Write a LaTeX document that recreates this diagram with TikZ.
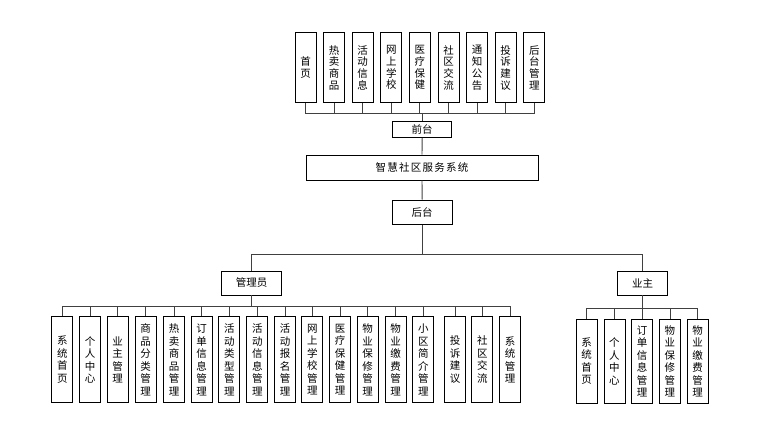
\documentclass[tikz,border=0pt]{standalone}
\usepackage{fontspec}
\newfontfamily\cjk{Noto Sans CJK SC}
\newfontfamily\cjkwide[LetterSpace=12]{Noto Sans CJK SC}
\begin{document}
\begin{tikzpicture}[x=1pt,y=-1pt,
  box/.style={draw=black,line width=0.9pt,fill=white,inner sep=0pt,
    font=\cjk\fontsize{10.5}{12}\selectfont,align=center},
  topbox/.style={box,minimum width=21,minimum height=70,
    font=\cjk\fontsize{10.5}{11.7}\selectfont},
  leafbox/.style={box,minimum width=21,minimum height=86,
    font=\cjk\fontsize{10.5}{12.5}\selectfont},
  ownleaf/.style={box,minimum width=21,minimum height=84,
    font=\cjk\fontsize{10.5}{12.5}\selectfont},
  link/.style={draw=black!75,line width=0.9pt}]
\useasboundingbox (0,0) rectangle (768,443);

% front-end pages
\foreach \t [count=\i] in {首\\页,热\\卖\\商\\品,活\\动\\信\\息,网\\上\\学\\校,医\\疗\\保\\健,社\\区\\交\\流,通\\知\\公\\告,投\\诉\\建\\议,后\\台\\管\\理}
  \node[topbox] (t\i) at ({305.5+28.6*(\i-1)},67.7) {\t};

\node[box,minimum width=59,minimum height=16] (qt) at (422.2,129.5) {前台};
\node[box,minimum width=232,minimum height=25,font=\cjkwide\fontsize{10.5}{12}\selectfont] (sys) at (422,167.5) {智慧社区服务系统};
\node[box,minimum width=60,minimum height=24] (ht) at (422.2,212.2) {后台};
\node[box,minimum width=60,minimum height=24] (adm) at (251.7,283) {管理员};
\node[box,minimum width=50,minimum height=24] (own) at (642.5,283) {业主};

% administrator modules
\foreach \t/\x [count=\i] in {
  系\\统\\首\\页/62.3, 个\\人\\中\\心/90, 业\\主\\管\\理/117.7,
  商\\品\\分\\类\\管\\理/145.7, 热\\卖\\商\\品\\管\\理/174,
  订\\单\\信\\息\\管\\理/201.7, 活\\动\\类\\型\\管\\理/229.3,
  活\\动\\信\\息\\管\\理/257.3, 活\\动\\报\\名\\管\\理/285,
  网\\上\\学\\校\\管\\理/312.3, 医\\疗\\保\\健\\管\\理/340,
  物\\业\\保\\修\\管\\理/367.7, 物\\业\\缴\\费\\管\\理/395.7,
  小\\区\\简\\介\\管\\理/423.3, 投\\诉\\建\\议/455,
  社\\区\\交\\流/482.3, 系\\统\\管\\理/510}
  \node[leafbox] (a\i) at (\x,359.7) {\t};

% owner modules
\foreach \t [count=\i] in {系\\统\\首\\页,个\\人\\中\\心,订\\单\\信\\息\\管\\理,物\\业\\保\\修\\管\\理,物\\业\\缴\\费\\管\\理}
  \node[ownleaf] (o\i) at ({586.7+27.75*(\i-1)},361.2) {\t};

% bus junctions
\coordinate (topbus) at (422.2,113);
\coordinate (midbus) at (422.2,254);
\coordinate (abus) at (251.7,306.7);
\coordinate (obus) at (642.5,308.3);

% connectors
\foreach \i in {1,...,9} \draw[link] (t\i.south) |- (topbus);
\draw[link] (topbus) -- (qt.north);
\draw[link] (qt.south) -- (sys.north);
\draw[link] (sys.south) -- (ht.north);
\draw[link] (ht.south) -- (midbus);
\draw[link] (midbus) -| (adm.north);
\draw[link] (midbus) -| (own.north);
\draw[link] (adm.south) -- (abus);
\foreach \i in {1,...,17} \draw[link] (abus) -| (a\i.north);
\draw[link] (own.south) -- (obus);
\foreach \i in {1,...,5} \draw[link] (obus) -| (o\i.north);
\end{tikzpicture}
\end{document}
